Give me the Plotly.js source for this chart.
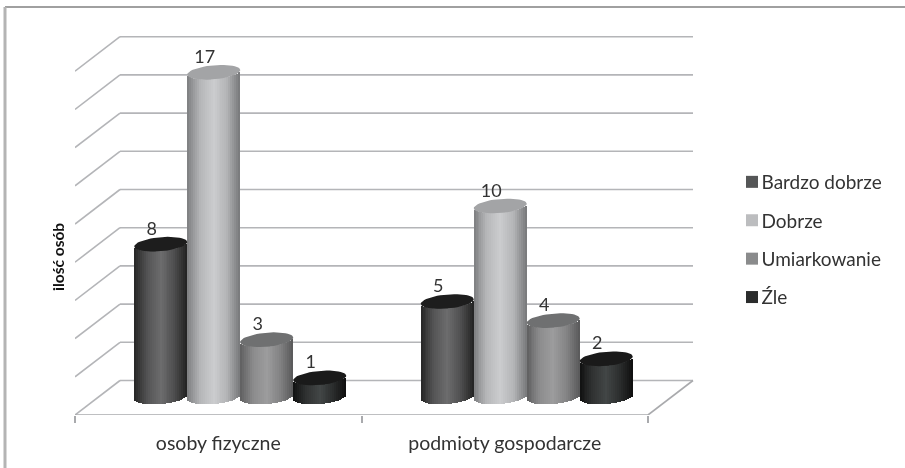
<!DOCTYPE html>
<html><head><meta charset="utf-8">
<script src="https://cdn.plot.ly/plotly-3.0.1.min.js"></script>
<style>html,body{margin:0;padding:0;background:#fff}#c{width:905px;height:468px;filter:blur(0.6px)}
.legendtext{transform:translateX(-10.5px)}</style>
</head><body><div id="c"></div>
<script>
const categories = ['osoby fizyczne', 'podmioty gospodarcze'];
const seriesNames = ['Bardzo dobrze', 'Dobrze', 'Umiarkowanie', 'Źle'];
const bardzoDobrze = [8, 5];
const dobrze = [17, 10];
const umiarkowanie = [3, 4];
const zle = [1, 2];
const gridValues = [0, 2, 4, 6, 8, 10, 12, 14, 16, 18];
const axisTitle = 'ilość osób';

const allValues = [bardzoDobrze, dobrze, umiarkowanie, zle];
const swatch = ['#555657', '#bcbdbf', '#8a8b8c', '#2b2c2c'];
const gradient = [
  [[38,38,38],[84,84,85],[108,108,109],[80,80,81],[34,34,34]],
  [[125,126,128],[182,183,185],[203,204,206],[180,181,183],[118,119,121]],
  [[95,95,96],[140,140,141],[156,156,157],[132,132,133],[88,88,89]],
  [[16,16,16],[48,50,50],[66,70,70],[44,46,46],[14,14,14]]
];
const capColor = ['#1d1d1d', '#a3a4a6', '#6f7071', '#1a1a1a'];

const PXX = 286.5, PXY = 19.1;
const left = 75, right = 700, top_ = 20, bottom = 415;
const depthX = 45 / PXX, depthY = 34.5 / PXY;
const baseU = 18 / PXY;
const cylW = 53 / PXX;
const rx = cylW / 2, ry = 7 / PXY, shear = 2.2 / PXY;
const STEPS = 27;

function cx(c, s) { return c + 0.5 + depthX / 2 + (s - 1.5) * cylW - 0.5 / PXX; }
function mix(stops, t) {
  const p = (t + 1) / 2 * (stops.length - 1), i = Math.min(Math.floor(p), stops.length - 2), f = p - i;
  return 'rgb(' + stops[i].map((v, k) => Math.round(v + (stops[i + 1][k] - v) * f)).join(',') + ')';
}

const traces = [];
seriesNames.forEach((name, s) => {
  const vals = allValues[s];
  traces.push({
    type: 'bar', name: name, legendgroup: name, showlegend: true,
    x: vals.map((v, c) => cx(c, s)), y: vals, base: vals.map(() => baseU),
    width: vals.map(() => cylW * 0.88),
    marker: { color: swatch[s], line: { width: 0 } }, hoverinfo: 'skip'
  });
  const xs = [], ys = [], bs = [], cols = [];
  vals.forEach((v, c) => {
    for (let i = 0; i < STEPS; i++) {
      const t = -1 + (2 * i + 1) / STEPS;
      const r = ry * Math.sqrt(1 - t * t), sh = shear * t;
      xs.push(cx(c, s) + t * rx);
      const lo = baseU + sh - r, hi = baseU + v + sh - r;
      bs.push(lo); ys.push(hi - lo); cols.push(mix(gradient[s], t));
    }
  });
  traces.push({
    type: 'bar', x: xs, y: ys, base: bs, width: xs.map(() => (2 * rx / STEPS) * 1.15),
    marker: { color: cols, line: { width: 0 } },
    showlegend: false, legendgroup: name, hoverinfo: 'skip'
  });
});
seriesNames.forEach((name, s) => {
  const xs = [], ys = [];
  allValues[s].forEach((v, c) => {
    for (let a = 0; a <= 48; a++) {
      const th = a / 48 * 2 * Math.PI, t = Math.cos(th);
      xs.push(cx(c, s) + rx * t);
      ys.push(baseU + v + shear * t + ry * Math.sin(th));
    }
    xs.push(null); ys.push(null);
  });
  traces.push({
    type: 'scatter', mode: 'lines', x: xs, y: ys, fill: 'toself', fillcolor: capColor[s],
    line: { width: 0, color: capColor[s] }, showlegend: false, hoverinfo: 'skip'
  });
});
const lx = [], ly = [], lt = [];
seriesNames.forEach((n, s) => allValues[s].forEach((v, c) => {
  lx.push(cx(c, s) - 9 / PXX); ly.push(baseU + v + 14 / PXY); lt.push(String(v));
}));
traces.push({
  type: 'scatter', mode: 'text', x: lx, y: ly, text: lt, textposition: 'middle center',
  textfont: { family: 'Lato, sans-serif', size: 18, color: '#333' },
  showlegend: false, hoverinfo: 'skip'
});

const wall = '#b4b5b8', lineW = 1.6;
const shapes = [];
function seg(x0, y0, x1, y1, col) {
  shapes.push({ type: 'line', xref: 'x', yref: 'y', x0, y0, x1, y1, layer: 'below', line: { color: col || wall, width: lineW } });
}
const nCat = categories.length;
gridValues.forEach(v => {
  seg(0, v, depthX, v + depthY);
  seg(depthX, v + depthY, nCat + depthX, v + depthY);
});
seg(0, 0, nCat, 0, '#a9aaad');
seg(nCat, 0, nCat + depthX, depthY, '#a9aaad');
const fx = v => (v - left) / (right - left), fy = v => (bottom - v) / (bottom - top_);
shapes.push({ type: 'line', xref: 'paper', yref: 'paper', layer: 'below', x0: fx(5), x1: fx(905), y0: fy(7), y1: fy(7), line: { color: '#a0a0a0', width: 2 } });
shapes.push({ type: 'line', xref: 'paper', yref: 'paper', layer: 'below', x0: fx(5), x1: fx(5), y0: fy(7), y1: fy(468), line: { color: '#b4b4b4', width: 3 } });

const layout = {
  width: 905, height: 468, paper_bgcolor: '#fff', plot_bgcolor: 'rgba(0,0,0,0)',
  margin: { l: left, r: 905 - right, t: top_, b: 468 - bottom, pad: 0 },
  barmode: 'overlay', bargap: 0, showlegend: true,
  font: { family: 'Lato, sans-serif', color: '#333', size: 19 },
  xaxis: {
    range: [0, (right - left) / PXX], fixedrange: true, showgrid: false, zeroline: false, showline: false,
    tickmode: 'array', tickvals: categories.map((c, i) => i + 0.5), ticktext: categories,
    ticks: '', ticklabelstandoff: 14, tickfont: { family: 'Lato, sans-serif', size: 19.5, color: '#333' },
    minor: { tickmode: 'array', tickvals: [0, 1, 2], ticks: 'outside', ticklen: 7, tickwidth: 1.5, tickcolor: '#a9aaad', showgrid: false }
  },
  yaxis: { range: [0, (bottom - top_) / PXY], fixedrange: true, showgrid: false, zeroline: false, showline: false, showticklabels: false, ticks: '' },
  legend: {
    xref: 'container', yref: 'container', x: 732 / 905, y: 1 - 163 / 468, xanchor: 'left', yanchor: 'top',
    traceorder: 'grouped', tracegroupgap: 10.7, itemclick: false, itemdoubleclick: false,
    bgcolor: 'rgba(0,0,0,0)', font: { family: 'Lato, sans-serif', size: 19, color: '#333' }
  },
  annotations: [{
    text: '<b>' + axisTitle + '</b>', textangle: -90, xref: 'paper', yref: 'paper', showarrow: false,
    xanchor: 'center', yanchor: 'middle', x: fx(58), y: fy(257),
    font: { family: 'Lato, sans-serif', size: 15.5, color: '#111' }
  }],
  shapes: shapes
};
Plotly.newPlot('c', traces, layout, { displayModeBar: false, responsive: false });
</script></body></html>
